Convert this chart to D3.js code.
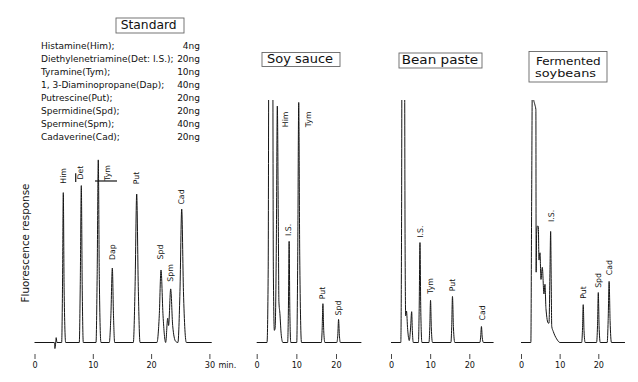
<!DOCTYPE html>
<html>
<head>
<meta charset="utf-8">
<script src="https://cdn.jsdelivr.net/npm/d3@7"></script>
<style>
  html, body { margin: 0; padding: 0; background: #fff; }
  svg { display: block; }
  text { font-family: "DejaVu Sans", "Liberation Sans", Arial, sans-serif; fill: #111; }
</style>
</head>
<body>
<script>
// ---------------- DATA ----------------
// retention time (min) vs fluorescence response (arbitrary, 100 = top of the recorder chart)
const standardTrace = [
  [0,0],[3.4,0],[3.5,-2.5],[3.6,-1],[3.72,2],[3.85,0],
  [4.66,0],[4.8,22],[4.94,61.8],[5.08,22],[5.35,0],
  [7.68,0],[7.85,24],[8.03,64.7],[8.18,24],[8.37,0],
  [10.55,0],[10.75,28],[10.94,75.3],[11.12,26],[11.4,0],
  [12.83,0],[13.1,11],[13.35,30.7],[13.55,11],[13.75,0],
  [16.95,0],[17.25,23],[17.53,61.2],[17.8,23],[18.1,0],
  [21.0,0],[21.4,11],[21.7,29.9],[22.05,11],[22.5,0],
  [22.85,10],[23.0,7],[23.36,22.1],[23.7,7],[24.2,0.5],
  [24.6,0],[24.95,21],[25.25,55],[25.55,21],[26.05,0],
  [30.4,0]
];
const soyTrace = [
  [0,0],[2.6,0],[2.9,30],[3.1,150],[4.0,150],[4.2,30],[4.45,5],[4.65,6],
  [4.95,40],[5.2,97.5],[5.45,50],[5.6,17],[5.85,12],[6.2,3],[6.6,0],
  [7.8,0],[8.0,14],[8.18,41.7],[8.35,14],[8.6,0],
  [10.1,0],[10.35,36],[10.6,99],[10.85,36],[11.3,0],
  [16.3,0],[16.5,5],[16.7,16],[16.9,5],[17.2,0],
  [20.2,0],[20.45,3],[20.65,9.5],[20.85,3],[21.1,0],
  [26.4,0]
];
const beanTrace = [
  [0,0],[2.5,0],[2.7,50],[2.85,150],[3.4,150],[3.6,40],[3.75,11],[3.95,13],
  [4.26,5.3],[4.67,0.8],[5.0,6],[5.28,12.7],[5.45,5],[5.7,0],
  [7.0,0],[7.2,14],[7.4,41.2],[7.6,14],[7.9,0],
  [9.7,0],[9.9,6],[10.1,17.4],[10.3,6],[10.6,0],
  [15.3,0],[15.5,6],[15.7,19],[15.95,6],[16.3,0],
  [22.7,0],[22.9,2.2],[23.1,6.6],[23.3,2.2],[23.6,0],
  [26.2,0]
];
const fermTrace = [
  [0,0],[2.55,0],[2.76,60],[2.95,110],[3.2,101],[3.6,98],[3.85,96],[3.92,29],
  [4.05,45],[4.25,48],[4.48,47.9],[4.65,34],[4.91,37],[5.17,26],[5.51,31],
  [5.94,20],[6.2,24],[6.46,14],[7.06,8],[7.25,8],[7.5,30],[7.67,45.8],
  [7.82,25],[7.95,6.7],[8.36,4.5],[9.22,1.5],[10.1,0],
  [15.7,0],[15.9,5],[16.1,15.6],[16.3,5],[16.6,0],
  [19.55,0],[19.8,7],[20.0,20.6],[20.2,7],[20.5,0],
  [22.3,0],[22.55,9],[22.8,25.2],[23.05,9],[23.4,0],
  [26.9,0]
];

// peak labels: [text, time at label centre, response at label centre]
const standardLabels = [["Him",4.89,68.7],["Det",7.89,70.1],["Tym",12.5,69.9],["Dap",13.38,37.3],
  ["Put",17.41,67.8],["Spd",21.53,37.3],["Spm",23.33,28.7],["Cad",25.13,60.0]];
const soyLabels = [["Him",7.26,92],["Tym",12.94,92],["I.S.",8.07,46.4],["Put",16.6,20.4],["Spd",20.58,14.2]];
const beanLabels = [["I.S.",7.41,45.7],["Tym",10.14,23.3],["Put",15.71,23.7],["Cad",23.24,12.2]];
const fermLabels = [["I.S.",7.89,52.2],["Put",16.12,20.6],["Spd",19.92,25.6],["Cad",22.9,30.9]];

// pen marks on the standard chart: [t1, r1, t2, r2]
const standardMarks = [[10.38,66.6,14.15,66.6],[7.07,69.8,7.07,66.2]];

// standard mixture legend
const compoundNames = ["Histamine(Him);","Diethylenetriamine(Det: I.S.);","Tyramine(Tym);",
  "1, 3-Diaminopropane(Dap);","Putrescine(Put);","Spermidine(Spd);","Spermine(Spm);","Cadaverine(Cad);"];
const compoundAmounts = ["4ng","20ng","10ng","40ng","20ng","20ng","40ng","20ng"];

const standardTicks = [0,10,20,30];
const sampleTicks = [0,10,20];
const panelTitles = [["Standard"],["Soy sauce"],["Bean paste"],["Fermented","soybeans"]];
const yAxisTitle = "Fluorescence response";

// ---------------- DRAWING ----------------
const W = 638, H = 382;
const svg = d3.select("body").append("svg").attr("width", W).attr("height", H);

const yScale = d3.scaleLinear().domain([0,100]).range([342.5,100]);

const panels = [
  {trace: standardTrace, labels: standardLabels, ticks: standardTicks, domain:[0,30], range:[34.5,209.4],
   title: panelTitles[0], box:[116,18,68,15], titleW:[56], titleX:[120.7], titleY:[29.4], titleFs:12.3},
  {trace: soyTrace, labels: soyLabels, ticks: sampleTicks, domain:[0,20], range:[256.7,336],
   title: panelTitles[1], box:[262,52.5,78,14], titleW:[66], titleX:[267], titleY:[63], titleFs:12.3},
  {trace: beanTrace, labels: beanLabels, ticks: sampleTicks, domain:[0,20], range:[391,469.3],
   title: panelTitles[2], box:[399,53,83,15], titleW:[76.5], titleX:[401.7], titleY:[63.6], titleFs:12.3},
  {trace: fermTrace, labels: fermLabels, ticks: sampleTicks, domain:[0,20], range:[521,598.3],
   title: panelTitles[3], box:[529,51.5,78,30.5], titleW:[64.7,61], titleX:[536,535], titleY:[64.6,77.4], titleFs:10.9}
];

svg.append("defs").append("clipPath").attr("id","chartclip")
  .append("rect").attr("x",0).attr("y",yScale(100)).attr("width",W).attr("height",H);

panels.forEach((p, i) => {
  const x = d3.scaleLinear().domain(p.domain).range(p.range);
  const g = svg.append("g");

  // trace
  const line = d3.line().x(d => x(d[0])).y(d => yScale(d[1])).curve(d3.curveMonotoneX);
  g.append("path").datum(p.trace)
    .attr("clip-path","url(#chartclip)")
    .attr("d", line).attr("fill","none")
    .attr("stroke","#151515").attr("stroke-width",1).attr("stroke-linejoin","round");

  // axis
  const axis = d3.axisBottom(x).tickValues(p.ticks).tickSize(5).tickPadding(3).tickFormat(d3.format("d"));
  const ag = g.append("g").attr("transform","translate(0,354)").call(axis);
  ag.select(".domain").remove();
  ag.selectAll(".tick line").attr("stroke","#333").attr("stroke-width",0.9);
  ag.selectAll(".tick text").attr("fill","#222")
    .style("font-family",'"Liberation Sans Narrow","DejaVu Sans Condensed",Arial,sans-serif')
    .style("font-size","9px");
  if (i === 0) {
    g.append("text").attr("x", x(30) + 9).attr("y", 367.6)
      .style("font-family",'"Liberation Sans Narrow","DejaVu Sans Condensed",Arial,sans-serif')
      .style("font-size","9px").attr("fill","#222").text("min.");
  }

  // peak labels
  g.selectAll("text.pk").data(p.labels).enter().append("text").attr("class","pk")
    .attr("transform", d => `translate(${x(d[1])},${yScale(d[2])}) rotate(-90)`)
    .attr("text-anchor","middle").attr("dy","0.35em")
    .style("font-size","7.8px").text(d => d[0]);

  // title box
  g.append("rect").attr("x",p.box[0]).attr("y",p.box[1]).attr("width",p.box[2]).attr("height",p.box[3])
    .attr("fill","none").attr("stroke","#666").attr("stroke-width",0.9);
  p.title.forEach((t, k) => {
    g.append("text").attr("x",p.titleX[k]).attr("y",p.titleY[k])
      .attr("textLength",p.titleW[k]).attr("lengthAdjust","spacingAndGlyphs")
      .style("font-size", p.titleFs + "px").text(t);
  });

  if (i === 0) {
    g.selectAll("line.mark").data(standardMarks).enter().append("line").attr("class","mark")
      .attr("x1", d => x(d[0])).attr("y1", d => yScale(d[1]))
      .attr("x2", d => x(d[2])).attr("y2", d => yScale(d[3]))
      .attr("stroke","#151515").attr("stroke-width",1.2);
  }
});

// y axis title
svg.append("text").attr("transform","translate(25,243) rotate(-90)")
  .attr("text-anchor","middle").attr("dy","0.35em")
  .style("font-size","10.4px").text(yAxisTitle);

// legend of standard mixture
const lg = svg.append("g");
lg.selectAll("text.nm").data(compoundNames).enter().append("text").attr("class","nm")
  .attr("x",41).attr("y",(d,i) => 48.8 + i*13).style("font-size","9px").text(d => d);
lg.selectAll("text.am").data(compoundAmounts).enter().append("text").attr("class","am")
  .attr("x",200).attr("y",(d,i) => 48.8 + i*13).attr("text-anchor","end").style("font-size","9px").text(d => d);
</script>
</body>
</html>
